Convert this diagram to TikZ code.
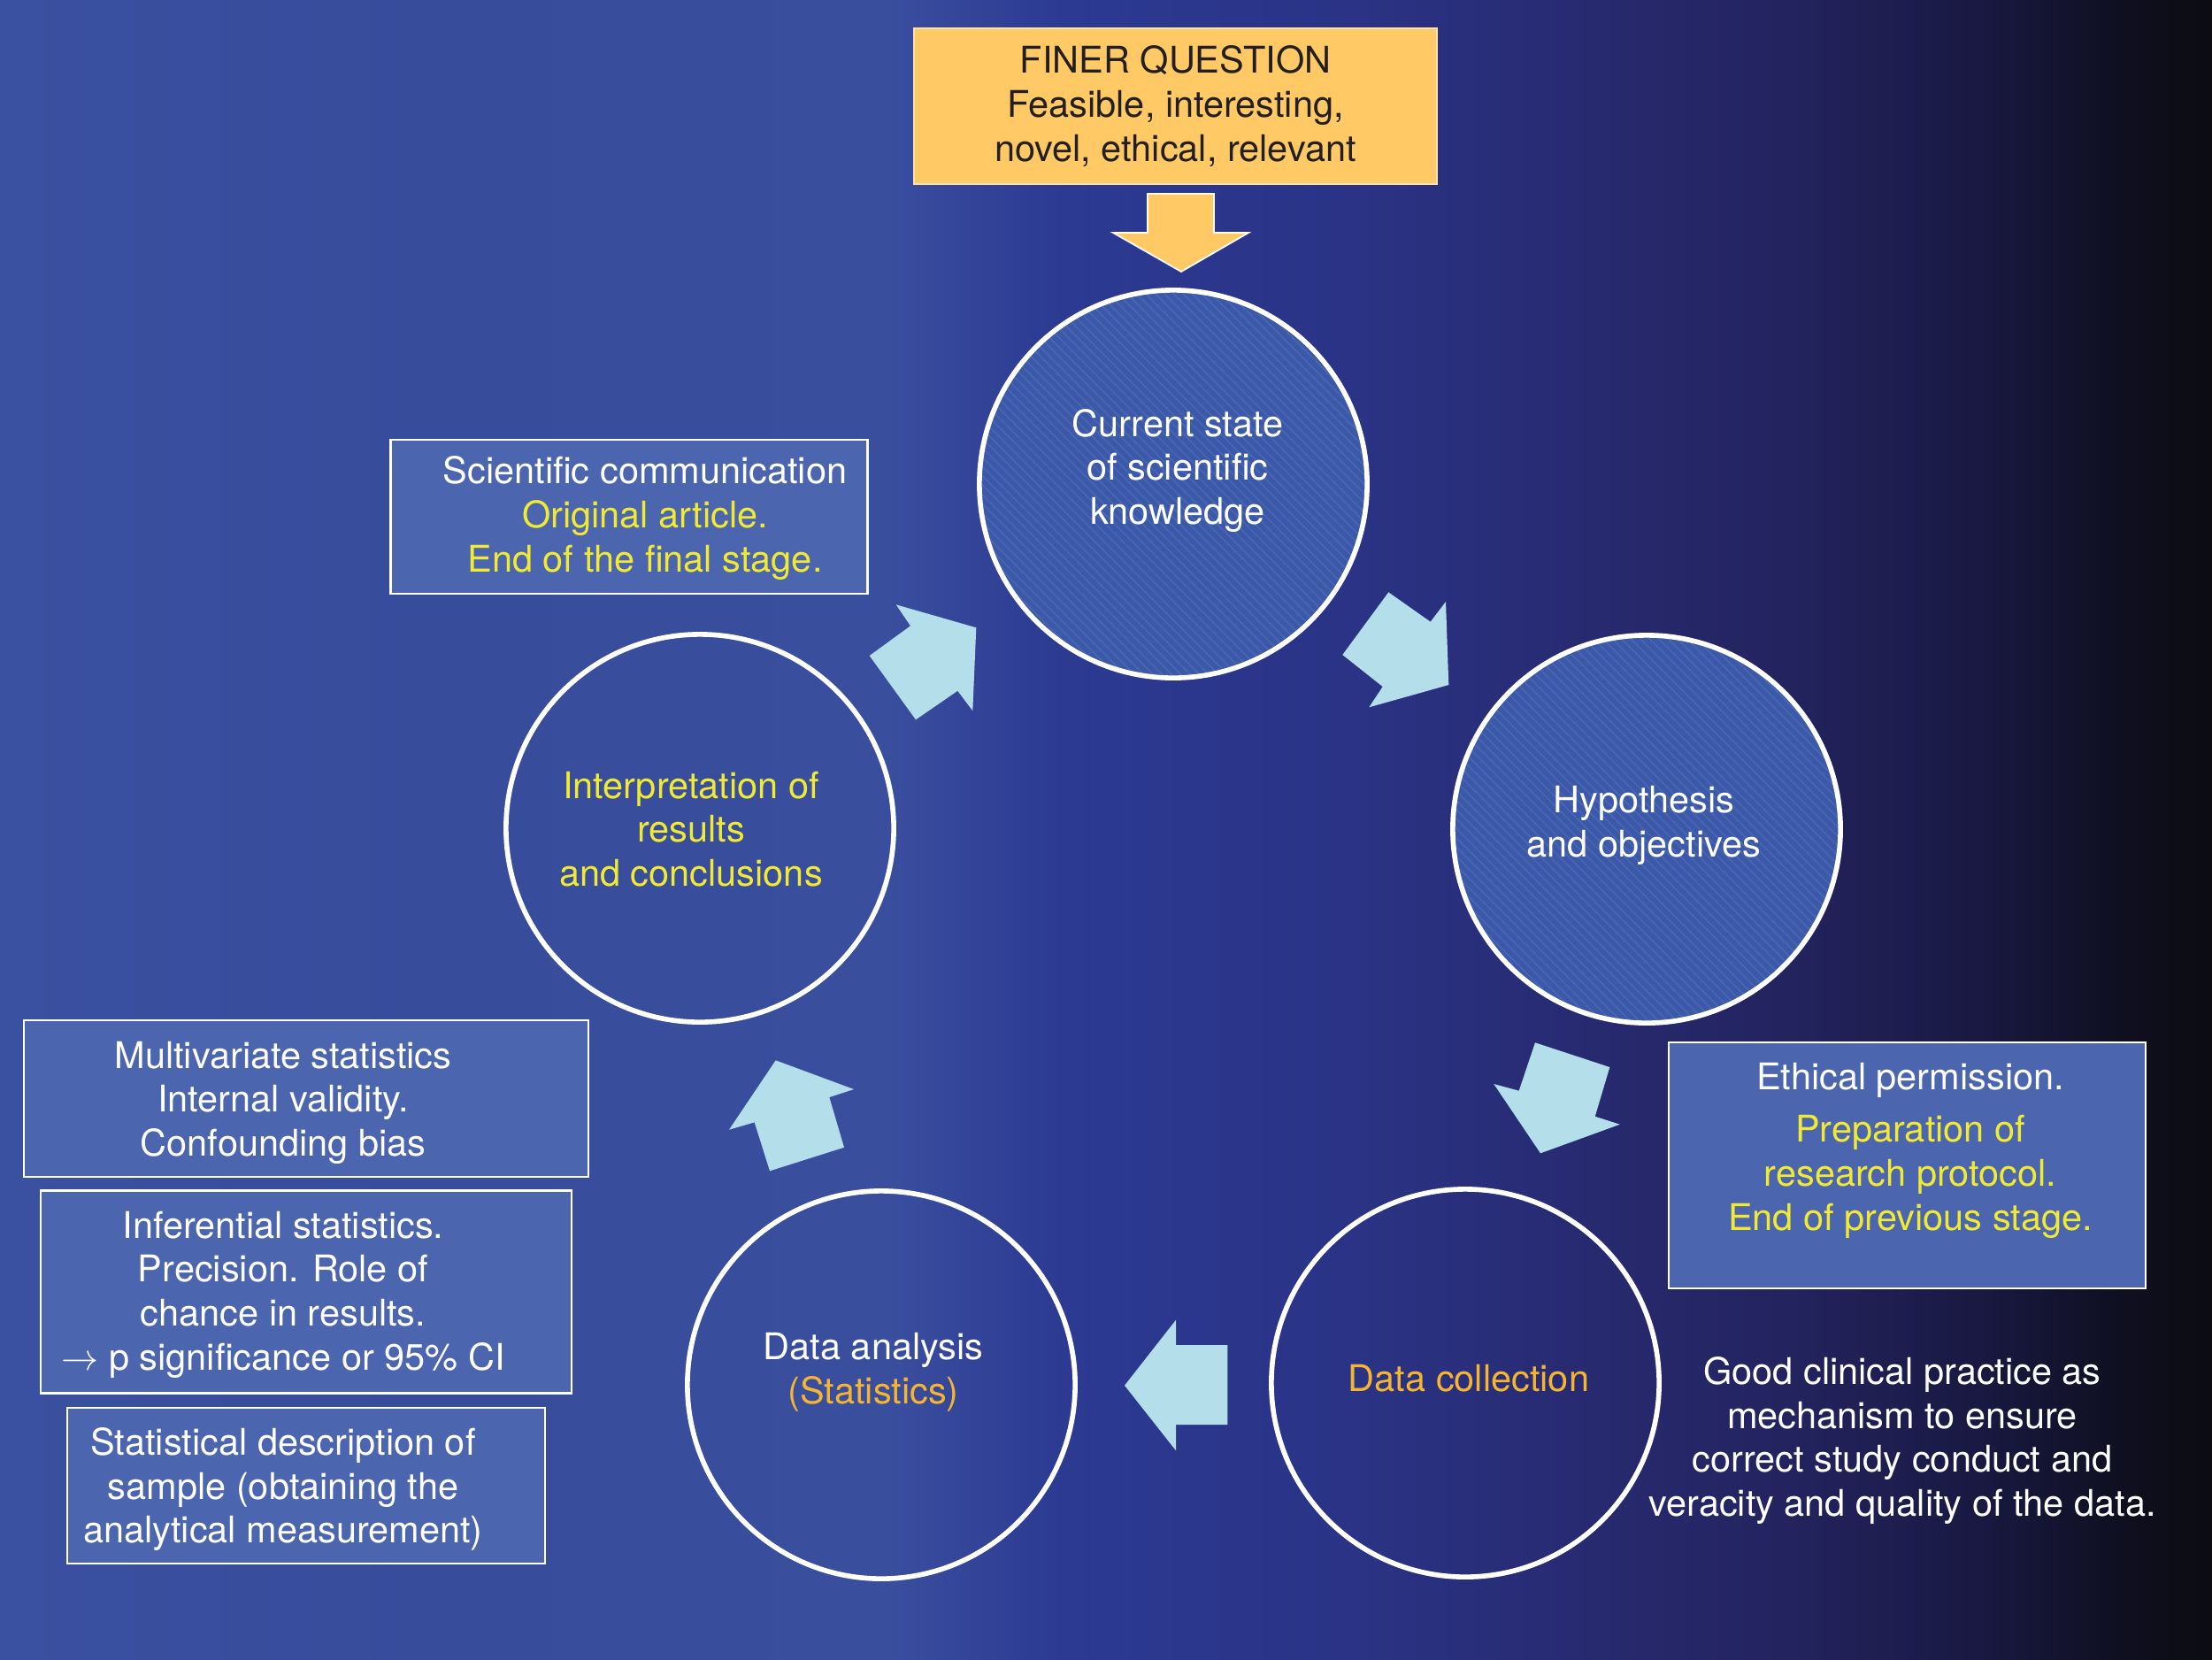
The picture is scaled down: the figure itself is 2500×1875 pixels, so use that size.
\documentclass[tikz,border=0pt]{standalone}
\usepackage{fontspec}
\setmainfont{TeX Gyre Heros}
\usetikzlibrary{patterns}
\definecolor{bg0}{RGB}{58,80,160}
\definecolor{bg1}{RGB}{55,76,155}
\definecolor{bg2}{RGB}{58,78,158}
\definecolor{bg3}{RGB}{44,58,146}
\definecolor{bg4}{RGB}{42,52,135}
\definecolor{bg5}{RGB}{40,42,112}
\definecolor{bg6}{RGB}{34,34,92}
\definecolor{bg7}{RGB}{24,24,64}
\definecolor{bg8}{RGB}{15,15,32}
\definecolor{bg9}{RGB}{12,12,18}
\definecolor{cfill}{RGB}{60,88,168}
\definecolor{stripe}{RGB}{74,104,178}
\definecolor{boxfill}{RGB}{76,101,175}
\definecolor{arrowblue}{RGB}{180,222,234}
\definecolor{finer}{RGB}{255,202,102}
\definecolor{finerline}{RGB}{255,225,170}
\definecolor{ylw}{RGB}{240,234,52}
\definecolor{orng}{RGB}{245,180,50}
\definecolor{darktxt}{RGB}{35,31,32}
\begin{document}
\begin{tikzpicture}[x=0.01cm,y=-0.01cm,
  txt/.style={font=\fontsize{11.8}{14.1}\selectfont, align=center, inner sep=0pt, text=white},
  circ/.style={circle, draw=white, line width=1.6pt, minimum size=4.38cm, inner sep=0pt, outer sep=0pt},
  infobox/.style={rectangle, draw=white, line width=0.7pt, fill=boxfill, inner sep=0pt},
  blockarrow/.style={fill=arrowblue}
]
\useasboundingbox (0,0) rectangle (2500,1875);
% background gradient
\shade[left color=bg0, right color=bg1] (0,0) rectangle (501,1875);
\shade[left color=bg1, right color=bg2] (500,0) rectangle (1001,1875);
\shade[left color=bg2, right color=bg3] (1000,0) rectangle (1201,1875);
\shade[left color=bg3, right color=bg4] (1200,0) rectangle (1501,1875);
\shade[left color=bg4, right color=bg5] (1500,0) rectangle (1801,1875);
\shade[left color=bg5, right color=bg6] (1800,0) rectangle (2051,1875);
\shade[left color=bg6, right color=bg7] (2050,0) rectangle (2251,1875);
\shade[left color=bg7, right color=bg8] (2250,0) rectangle (2401,1875);
\shade[left color=bg8, right color=bg9] (2400,0) rectangle (2500,1875);

% FINER question box and arrow
\node[rectangle, fill=finer, draw=finerline, line width=0.5pt, minimum width=5.91cm, minimum height=1.76cm, inner sep=0pt,
      txt, text=darktxt] (finer) at (1328.5,120) {FINER QUESTION\\Feasible, interesting,\\novel, ethical, relevant};
\filldraw[fill=finer, draw=white, line width=0.5pt]
  (1297,219) -- (1372,219) -- (1372,263) -- (1411,263) -- (1335,307) -- (1258,263) -- (1297,263) -- cycle;

% striped circles
\fill[cfill] (1326,547) circle (2.19cm);
\fill[pattern=north west lines, pattern color=stripe] (1326,547) circle (2.19cm);
\fill[cfill] (1861,937) circle (2.19cm);
\fill[pattern=north west lines, pattern color=stripe] (1861,937) circle (2.19cm);

% circles
\node[circ] (c1) at (1326,547) {};
\node[circ] (c2) at (1861,937) {};
\node[circ] (c3) at (1656,1563) {};
\node[circ] (c4) at (996,1565) {};
\node[circ] (c5) at (791,936) {};

% circle texts
\node[txt] (t1) at (1331,532) {Current state\\of scientific\\knowledge};
\node[txt] (t2) at (1858,933) {Hypothesis\\and objectives};
\node[txt, text=orng] (t3) at (1660,1558) {Data collection};
\node[txt] (t4) at (987,1551) {Data analysis\\\textcolor{orng}{(Statistics)}};
\node[txt, text=ylw] (t5) at (781,937) {Interpretation of\\results\\and conclusions};

% block arrows
\fill[blockarrow] (1012.7,683.3) -- (1029,707.3) -- (982.7,741) -- (1035,813.3) -- (1082.3,780.7) -- (1099.3,803.3) -- (1103.3,709.3) -- cycle;
\fill[blockarrow] (1569.3,669.3) -- (1616.7,702.7) -- (1634,680) -- (1637.3,774) -- (1547.3,799.3) -- (1562.7,776) -- (1517.3,740) -- cycle;
\fill[blockarrow] (1735,1178.3) -- (1819.3,1206) -- (1802.7,1261.7) -- (1830.7,1270.7) -- (1741,1303.3) -- (1688.3,1225) -- (1716.7,1232.7) -- cycle;
\fill[blockarrow] (1271,1565.7) -- (1329,1491.7) -- (1329,1520) -- (1387.3,1520) -- (1387.3,1610) -- (1329,1610) -- (1329,1639.3) -- cycle;
\fill[blockarrow] (876.7,1198.3) -- (965,1231) -- (937.3,1240) -- (954,1296.7) -- (870,1323.3) -- (852.7,1268.3) -- (824,1276.7) -- cycle;

% info boxes
\node[infobox, minimum width=5.39cm, minimum height=1.735cm] (sci) at (711,584) {};
\node[txt] (scit) at (729,585.5) {Scientific communication\\\textcolor{ylw}{Original article.}\\\textcolor{ylw}{End of the final stage.}};

\node[infobox, minimum width=6.38cm, minimum height=1.77cm] (multi) at (346,1241.5) {};
\node[txt] (multit) at (320,1246) {Multivariate statistics\\Internal validity.\\Confounding bias};

\node[infobox, minimum width=6.0cm, minimum height=2.29cm] (infer) at (346,1460) {};
\node[txt] (infert) at (320,1463) {Inferential statistics.\\Precision. Role of\\chance in results.\\$\rightarrow$ p significance or 95\% CI};

\node[infobox, minimum width=5.40cm, minimum height=1.76cm] (stat) at (346,1679) {};
\node[txt] (statt) at (320,1683) {Statistical description of\\sample (obtaining the\\analytical measurement)};

\node[infobox, minimum width=5.39cm, minimum height=2.78cm] (ethic) at (2155.5,1317) {};
\node[txt] (ethict) at (2159,1300) {Ethical permission.\\[0.1cm]\textcolor{ylw}{Preparation of}\\\textcolor{ylw}{research protocol.}\\\textcolor{ylw}{End of previous stage.}};

\node[txt] (gcp) at (2150,1628) {Good clinical practice as\\mechanism to ensure\\correct study conduct and\\veracity and quality of the data.};
\end{tikzpicture}
\end{document}
